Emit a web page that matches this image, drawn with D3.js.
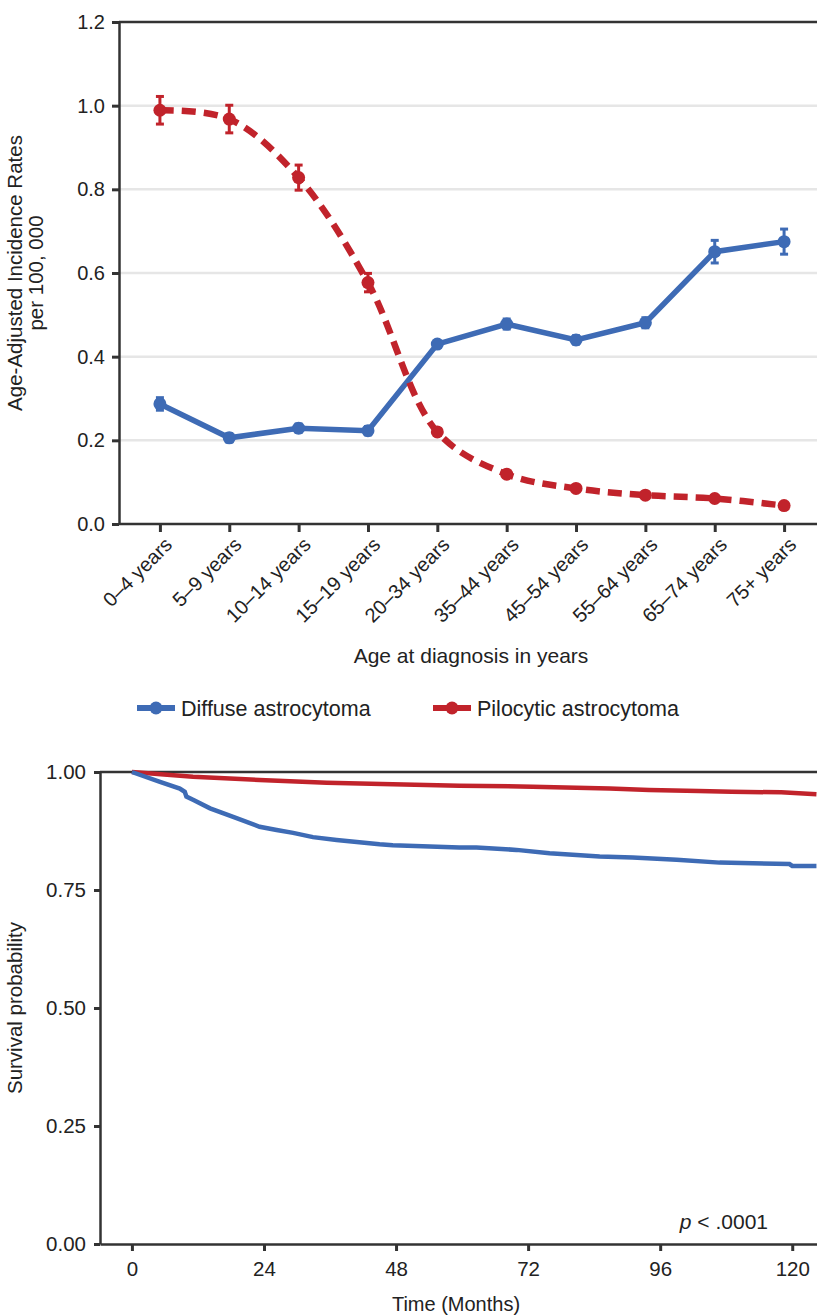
<!DOCTYPE html>
<html>
<head>
<meta charset="utf-8">
<script src="https://cdn.jsdelivr.net/npm/d3@7"></script>
<style>
  body { margin: 0; background: #fff; }
  svg { display: block; font-family: "Liberation Sans", Arial, sans-serif; }
</style>
</head>
<body>
<div id="chart"></div>
<script>
// incidence by age group
const ageGroups = ["0–4 years", "5–9 years", "10–14 years", "15–19 years", "20–34 years",
  "35–44 years", "45–54 years", "55–64 years", "65–74 years", "75+ years"];
const diffuseRate = [0.287, 0.206, 0.229, 0.223, 0.430, 0.478, 0.440, 0.481, 0.651, 0.675];
const diffuseErr  = [0.015, 0.010, 0.010, 0.010, 0.008, 0.012, 0.010, 0.012, 0.027, 0.030];
const pilocyticRate = [0.989, 0.968, 0.828, 0.577, 0.220, 0.119, 0.085, 0.069, 0.061, 0.044];
const pilocyticErr  = [0.033, 0.033, 0.030, 0.022, 0.008, 0.006, 0.005, 0.004, 0.004, 0.004];
const rateTicks = [0, 0.2, 0.4, 0.6, 0.8, 1.0, 1.2];

// survival (Kaplan-Meier), months vs probability
const diffuseMonths = [0, 5.1, 8.7, 9.6, 9.9, 11.1, 14.2, 18.4, 23.2, 26.3, 29.3, 32.9, 37.2, 45, 47.4,
  59.5, 62.6, 69.9, 75.9, 85, 91, 99, 106.8, 119.5, 120, 124.4];
const diffuseSurv = [1.0, 0.979, 0.965, 0.958, 0.948, 0.941, 0.923, 0.905, 0.884, 0.877, 0.871, 0.862, 0.856, 0.847, 0.845,
  0.840, 0.840, 0.835, 0.828, 0.821, 0.819, 0.814, 0.808, 0.805, 0.801, 0.801];
const pilocyticMonths = [0, 11.1, 23.2, 35.4, 47.4, 59.5, 72.8, 86.8, 94, 103, 109, 118, 124.4];
const pilocyticSurv = [1.0, 0.990, 0.983, 0.977, 0.974, 0.971, 0.969, 0.965, 0.962, 0.960, 0.958, 0.957, 0.953];
const monthTicks = [0, 24, 48, 72, 96, 120];
const survTicks = [0, 0.25, 0.5, 0.75, 1.0];

const width = 817, height = 1315;
const blue = "#3e6bb5", red = "#c1232b", axisColor = "#333", textColor = "#222";

const svg = d3.select("#chart").append("svg")
    .attr("width", width)
    .attr("height", height);

// ---------- top chart ----------
const x1 = d3.scalePoint().domain(ageGroups).range([119, 825]).padding(0.59);
const y1 = d3.scaleLinear().domain([0, 1.2]).range([524, 22]);

const topG = svg.append("g");

topG.append("g")
  .selectAll("line")
  .data(rateTicks.filter(d => d > 0 && d < 1.2))
  .enter().append("line")
    .attr("x1", 119).attr("x2", width)
    .attr("y1", d => y1(d)).attr("y2", d => y1(d))
    .attr("stroke", "#e6e6e6").attr("stroke-width", 2.5);

// frame top line
topG.append("line")
    .attr("x1", 119).attr("x2", width)
    .attr("y1", y1(1.2)).attr("y2", y1(1.2))
    .attr("stroke", axisColor).attr("stroke-width", 2.5);

const yAx1 = topG.append("g")
    .attr("transform", "translate(119,0)")
    .call(d3.axisLeft(y1).tickValues(rateTicks).tickFormat(d3.format(".1f")).tickSize(7).tickSizeOuter(0));
yAx1.select(".domain").attr("stroke", axisColor).attr("stroke-width", 2.5);
yAx1.selectAll(".tick line").attr("stroke", axisColor).attr("stroke-width", 3);
yAx1.selectAll(".tick text").attr("font-size", 20).attr("fill", textColor).attr("x", -14);

const xAx1 = topG.append("g")
    .attr("transform", "translate(0,524)")
    .call(d3.axisBottom(x1).tickSize(8).tickSizeOuter(0));
xAx1.select(".domain").attr("d", `M119,0H${width}`).attr("stroke", axisColor).attr("stroke-width", 2.5);
xAx1.selectAll(".tick line").attr("stroke", axisColor).attr("stroke-width", 3);
xAx1.selectAll(".tick text")
    .attr("font-size", 20).attr("fill", textColor)
    .attr("text-anchor", "end")
    .attr("x", 0).attr("y", 0).attr("dy", 0)
    .attr("transform", "translate(13,22) rotate(-45)");

topG.append("text")
    .attr("transform", "translate(22,273) rotate(-90)")
    .attr("text-anchor", "middle").attr("font-size", 20.5).attr("fill", textColor)
    .text("Age-Adjusted Incidence Rates");
topG.append("text")
    .attr("transform", "translate(43,273) rotate(-90)")
    .attr("text-anchor", "middle").attr("font-size", 20.5).attr("fill", textColor)
    .text("per 100, 000");
topG.append("text")
    .attr("x", 471).attr("y", 663)
    .attr("text-anchor", "middle").attr("font-size", 21).attr("fill", textColor)
    .text("Age at diagnosis in years");

const series = [
  {name: "Diffuse astrocytoma", rate: diffuseRate, err: diffuseErr, color: blue, dash: null, w: 5.5,
   curve: d3.curveLinear},
  {name: "Pilocytic astrocytoma", rate: pilocyticRate, err: pilocyticErr, color: red, dash: "14,8", w: 6.5,
   curve: d3.curveCatmullRom.alpha(0.5)}
];

series.forEach(s => {
  const pts = ageGroups.map((a, i) => ({age: a, v: s.rate[i], e: s.err[i]}));
  const line1 = d3.line().x(d => x1(d.age)).y(d => y1(d.v)).curve(s.curve);
  const g = topG.append("g");
  g.append("path")
      .datum(pts)
      .attr("d", line1)
      .attr("fill", "none")
      .attr("stroke", s.color)
      .attr("stroke-width", s.w)
      .attr("stroke-dasharray", s.dash);
  const eb = g.selectAll(".err").data(pts).enter().append("g").attr("stroke", s.color).attr("stroke-width", 3);
  eb.append("line")
      .attr("x1", d => x1(d.age)).attr("x2", d => x1(d.age))
      .attr("y1", d => y1(d.v + d.e)).attr("y2", d => y1(d.v - d.e));
  eb.append("line")
      .attr("x1", d => x1(d.age) - 4).attr("x2", d => x1(d.age) + 4)
      .attr("y1", d => y1(d.v + d.e)).attr("y2", d => y1(d.v + d.e));
  eb.append("line")
      .attr("x1", d => x1(d.age) - 4).attr("x2", d => x1(d.age) + 4)
      .attr("y1", d => y1(d.v - d.e)).attr("y2", d => y1(d.v - d.e));
  g.selectAll("circle").data(pts).enter().append("circle")
      .attr("cx", d => x1(d.age)).attr("cy", d => y1(d.v))
      .attr("r", 6.5).attr("fill", s.color);
});

// legend
const legendX = [137, 433];
series.forEach((s, i) => {
  const g = svg.append("g").attr("transform", `translate(${legendX[i]},708)`);
  g.append("line").attr("x1", 0).attr("x2", 38).attr("y1", 0).attr("y2", 0)
      .attr("stroke", s.color).attr("stroke-width", 6);
  g.append("circle").attr("cx", 19).attr("cy", 0).attr("r", 6.5).attr("fill", s.color);
  g.append("text").attr("x", 44).attr("y", 0).attr("dy", "0.35em")
      .attr("font-size", 21.5).attr("fill", textColor).text(s.name);
});

// ---------- bottom chart ----------
const x2 = d3.scaleLinear().domain([-5.8, 124.5]).range([100, width]);
const y2 = d3.scaleLinear().domain([0, 1]).range([1244, 772]);

const bot = svg.append("g");

bot.append("line")
    .attr("x1", 100).attr("x2", width)
    .attr("y1", y2(1)).attr("y2", y2(1))
    .attr("stroke", axisColor).attr("stroke-width", 2.5);

const yAx2 = bot.append("g")
    .attr("transform", "translate(100,0)")
    .call(d3.axisLeft(y2).tickValues(survTicks).tickFormat(d3.format(".2f")).tickSize(6).tickSizeOuter(0));
yAx2.select(".domain").attr("stroke", axisColor).attr("stroke-width", 2.5);
yAx2.selectAll(".tick line").attr("stroke", axisColor).attr("stroke-width", 3);
yAx2.selectAll(".tick text").attr("font-size", 20.5).attr("fill", textColor).attr("x", -14);

const xAx2 = bot.append("g")
    .attr("transform", "translate(0,1244)")
    .call(d3.axisBottom(x2).tickValues(monthTicks).tickSize(7).tickSizeOuter(0));
xAx2.select(".domain").attr("stroke", axisColor).attr("stroke-width", 2.5);
xAx2.selectAll(".tick line").attr("stroke", axisColor).attr("stroke-width", 3);
xAx2.selectAll(".tick text").attr("font-size", 20.5).attr("fill", textColor).attr("y", 17);

bot.append("text")
    .attr("transform", "translate(22,1008) rotate(-90)")
    .attr("text-anchor", "middle").attr("font-size", 20.5).attr("fill", textColor)
    .text("Survival probability");
bot.append("text")
    .attr("x", 456).attr("y", 1311)
    .attr("text-anchor", "middle").attr("font-size", 20).attr("fill", textColor)
    .text("Time (Months)");

const pv = bot.append("text")
    .attr("x", 768).attr("y", 1229)
    .attr("text-anchor", "end").attr("font-size", 21).attr("fill", textColor);
pv.append("tspan").attr("font-style", "italic").text("p");
pv.append("tspan").text(" < .0001");

const line2 = d3.line().x(d => x2(d[0])).y(d => y2(d[1]));
const curves = [
  {t: pilocyticMonths, s: pilocyticSurv, color: red},
  {t: diffuseMonths, s: diffuseSurv, color: blue}
];
curves.forEach(c => {
  bot.append("path")
      .datum(c.t.map((t, i) => [t, c.s[i]]))
      .attr("d", line2)
      .attr("fill", "none")
      .attr("stroke", c.color)
      .attr("stroke-width", 4.5);
});
</script>
</body>
</html>
